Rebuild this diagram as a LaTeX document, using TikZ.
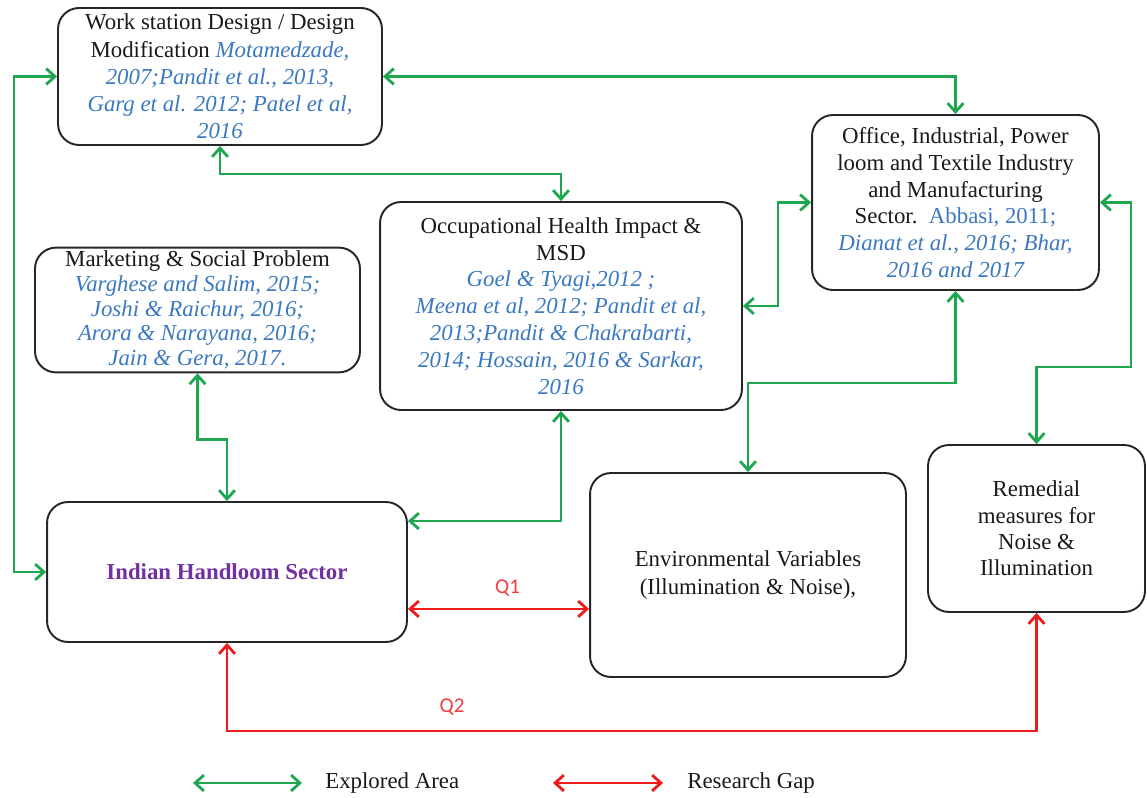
\documentclass[tikz,border=0pt]{standalone}
\usepackage{fontspec}
\setmainfont{Liberation Serif}
\newfontfamily\qlabelfont{Carlito}
\usepackage{xcolor}
\definecolor{ExploredGreen}{HTML}{1FA650}
\definecolor{GapRed}{HTML}{EE1B1B}
\definecolor{CiteBlue}{HTML}{3A78C0}
\definecolor{LoomPurple}{HTML}{7030A0}
\usepackage{tikz}
\usetikzlibrary{calc,positioning,arrows.meta}

\newcommand{\citeref}[1]{\textcolor{CiteBlue}{\itshape #1}}

\tikzset{
  box/.style={draw=black!85, line width=1.1pt, rounded corners=0.42cm, align=center, text=black!90, inner sep=2pt, font=\fontsize{13}{14}\selectfont},
  explored/.style={draw=ExploredGreen, line width=1.6pt, {Straight Barb[length=5pt,width=9pt]}-{Straight Barb[length=5pt,width=9pt]}},
  gap/.style={draw=GapRed, line width=1.6pt, {Straight Barb[length=5pt,width=9pt]}-{Straight Barb[length=5pt,width=9pt]}},
  qlabel/.style={text=GapRed!85, font=\qlabelfont\fontsize{12}{14}\selectfont},
  legtext/.style={text=black!90, font=\fontsize{13}{14}\selectfont, anchor=west, inner sep=0pt},
}

\begin{document}
\begin{tikzpicture}[x=0.02cm, y=-0.02cm]
\useasboundingbox (0,0) rectangle (1147,798);

% boxes
\node[box, minimum width=6.48cm, minimum height=2.74cm, font=\fontsize{13}{15.5}\selectfont] (ws) at (220,76.5)
  {Work station Design / Design\\ Modification \citeref{Motamedzade,}\\ \citeref{2007;Pandit et al., 2013,}\\ \citeref{Garg et al. 2012; Patel et al,}\\ \citeref{2016}};
\node[box, minimum width=6.5cm, minimum height=2.3cm] (mkt) at (197.5,310)
  {Marketing \& Social Problem\\ \citeref{Varghese and Salim, 2015;}\\ \citeref{Joshi \& Raichur, 2016;}\\ \citeref{Arora \& Narayana, 2016;}\\ \citeref{Jain \& Gera, 2017.}};
\node[box, minimum width=7.24cm, minimum height=4.16cm, font=\fontsize{13}{15.3}\selectfont] (occ) at (561,306)
  {Occupational Health Impact \&\\ MSD\\ \citeref{Goel \& Tyagi,2012 ;}\\ \citeref{Meena et al, 2012; Pandit et al,}\\ \citeref{2013;Pandit \& Chakrabarti,}\\ \citeref{2014; Hossain, 2016 \& Sarkar,}\\ \citeref{2016}};
\node[box, minimum width=5.74cm, minimum height=3.5cm, font=\fontsize{13}{15.2}\selectfont] (off) at (955.5,202.5)
  {Office, Industrial, Power\\ loom and Textile Industry\\ and Manufacturing\\ Sector.\ \ \textcolor{CiteBlue}{Abbasi, 2011;}\\ \citeref{Dianat et al., 2016; Bhar,}\\ \citeref{2016 and 2017}};
\node[box, minimum width=7.2cm, minimum height=2.8cm] (ihs) at (227,572)
  {\textcolor{LoomPurple}{\bfseries Indian Handloom Sector}};
\node[box, minimum width=6.32cm, minimum height=4.08cm, font=\fontsize{13}{16}\selectfont] (env) at (748,575)
  {Environmental Variables\\ (Illumination \& Noise),};
\node[box, minimum width=4.34cm, minimum height=3.34cm, font=\fontsize{13}{15}\selectfont] (rem) at (1036.5,528.5)
  {Remedial\\ measures for\\ Noise \&\\ Illumination};

% explored area
\draw[explored] (ws.west) -- ++(-43,0) |- (ihs.west);
\draw[explored] (ws.east) -| (off.north);
\draw[explored] (ws.south) -- ++(0,28) -| (occ.north);
\draw[explored] (occ.east) -- ++(35,0) |- (off.west);
\draw[explored] (off.east) -| ++(31,164.5) -| (rem.north);
\draw[explored] (off.south) -- ++(0,92) -| (env.north);
\draw[explored] (occ.south) |- ($(ihs.north east)+(0,20)$);
\draw[explored] (mkt.south) -- ++(0,66) -| (ihs.north);

% research gap
\coordinate (q1) at ($(ihs.south east)+(0,-34)$);
\draw[gap] (q1) -- (q1 -| env.west) node[qlabel, pos=0.55, above=3pt] (q1lbl) {Q1};
\draw[gap] (ihs.south) -- ++(0,88) -| (rem.south);
\node[qlabel] (q2lbl) at (452,707) {Q2};

% legend
\coordinate (lgexp) at (193,783);
\draw[explored] (lgexp) -- ++(109,0);
\node[legtext] (lgexptext) at (325,783) {Explored Area};
\coordinate (lggap) at (553,783);
\draw[gap] (lggap) -- ++(110,0);
\node[legtext] (lggaptext) at (687,783) {Research Gap};
\end{tikzpicture}
\end{document}
